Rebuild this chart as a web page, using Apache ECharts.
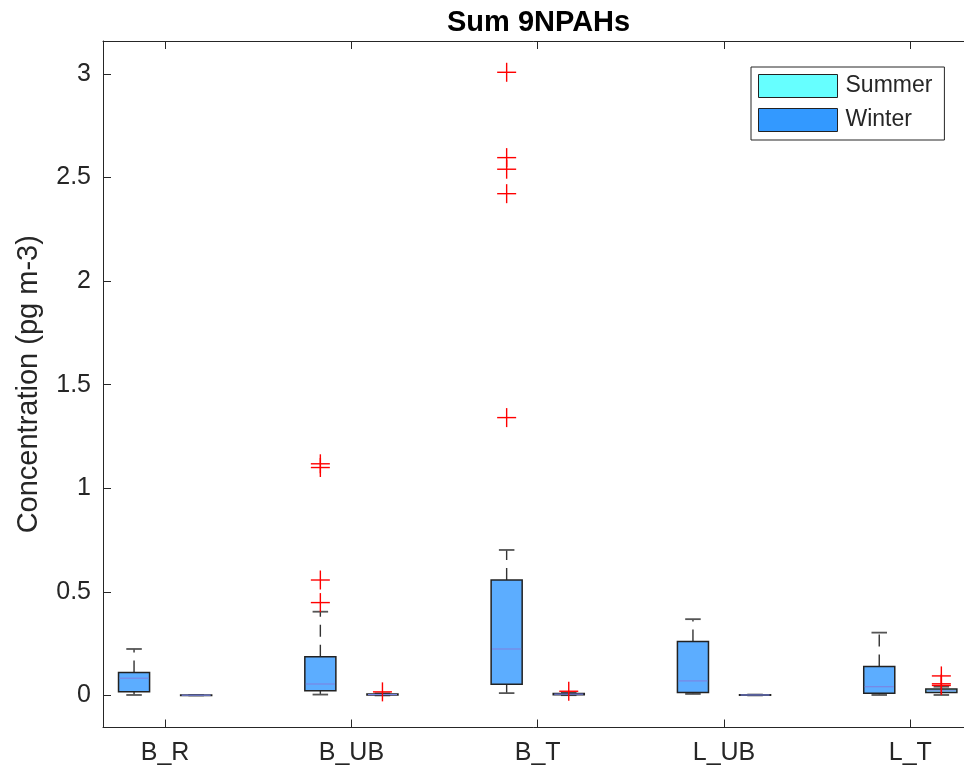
<!DOCTYPE html>
<html>
<head>
<meta charset="utf-8">
<title>Sum 9NPAHs</title>
<script src="https://cdn.jsdelivr.net/npm/echarts@6/dist/echarts.min.js"></script>
<style>
  html, body { margin: 0; padding: 0; background: #ffffff; }
  #chart { width: 964px; height: 774px; }
</style>
</head>
<body>
<div id="chart"></div>
<script>
// Sites, in the order they appear along the x axis
const groups = ['B_R', 'B_UB', 'B_T', 'L_UB', 'L_T'];

// Box statistics per site: [lower whisker, Q1, median, Q3, upper whisker] (pg m-3)
const winterStats = [
  [0.002, 0.017, 0.083, 0.110, 0.224],
  [0.004, 0.023, 0.055, 0.187, 0.404],
  [0.011, 0.054, 0.224, 0.557, 0.702],
  [0.007, 0.0135, 0.070, 0.260, 0.368],
  [0.002, 0.010, 0.042, 0.139, 0.303]
];
const summerStats = [
  [0.000, 0.0005, 0.001, 0.0015, 0.002],
  [0.000, 0.002, 0.004, 0.007, 0.010],
  [0.001, 0.003, 0.006, 0.009, 0.012],
  [0.000, 0.001, 0.002, 0.003, 0.004],
  [0.002, 0.0135, 0.022, 0.031, 0.042]
];

// Points beyond the whiskers
const winterOutliers = [
  [],
  [0.448, 0.557, 1.100, 1.118],
  [1.341, 2.422, 2.540, 2.596, 3.008],
  [],
  []
];
const summerOutliers = [
  [],
  [0.017],
  [0.020],
  [],
  [0.048, 0.056, 0.094]
];

const yTicks = [0, 0.5, 1, 1.5, 2, 2.5, 3];
const groupTicks = [0, 1, 2, 3, 4];

// Layout constants (in x-axis units: one unit per site)
const OFFSET = 1 / 6;      // winter box left of the site tick, summer box right of it
const BOX_W = 1 / 6;

const FONT = "'Liberation Sans', Arial, Helvetica, sans-serif";
const INK = '#262626';

function boxRows(stats, shift) {
  return stats.map((s, i) => [i + shift].concat(s));
}
function outlierRows(list, shift) {
  const rows = [];
  list.forEach((vals, i) => vals.forEach(v => rows.push([i + shift, v])));
  return rows;
}

function makeBoxRender(fill) {
  return function (params, api) {
    const x = api.value(0);
    const lo = api.coord([x, api.value(1)]);
    const q1 = api.coord([x, api.value(2)]);
    const md = api.coord([x, api.value(3)]);
    const q3 = api.coord([x, api.value(4)]);
    const hi = api.coord([x, api.value(5)]);
    const w = api.size([BOX_W, 0])[0];
    const cx = lo[0];
    const capW = w / 2;
    const whiskerStyle = { stroke: '#333333', lineWidth: 1.4, lineDash: [12, 8] };
    const capStyle = { stroke: '#555555', lineWidth: 1.8 };
    return {
      type: 'group',
      children: [
        { type: 'line', shape: { x1: cx, y1: q3[1], x2: cx, y2: hi[1] }, style: whiskerStyle },
        { type: 'line', shape: { x1: cx, y1: q1[1], x2: cx, y2: lo[1] }, style: whiskerStyle },
        { type: 'line', shape: { x1: cx - capW / 2, y1: hi[1], x2: cx + capW / 2, y2: hi[1] }, style: capStyle },
        { type: 'line', shape: { x1: cx - capW / 2, y1: lo[1], x2: cx + capW / 2, y2: lo[1] }, style: capStyle },
        {
          type: 'rect',
          shape: { x: cx - w / 2, y: q3[1], width: w, height: Math.max(q1[1] - q3[1], 0.5) },
          style: { fill: fill, stroke: '#222222', lineWidth: 1.5 }
        },
        {
          type: 'line',
          shape: { x1: cx - w / 2 + 1, y1: md[1], x2: cx + w / 2 - 1, y2: md[1] },
          style: { stroke: '#7a86e4', lineWidth: 1.2 }
        }
      ]
    };
  };
}

function renderOutlier(params, api) {
  const p = api.coord([api.value(0), api.value(1)]);
  const h = 9.5;
  const style = { stroke: '#ff0000', lineWidth: 1.4 };
  return {
    type: 'group',
    children: [
      { type: 'line', shape: { x1: p[0] - h, y1: p[1], x2: p[0] + h, y2: p[1] }, style: style },
      { type: 'line', shape: { x1: p[0], y1: p[1] - h, x2: p[0], y2: p[1] + h }, style: style }
    ]
  };
}

const chart = echarts.init(document.getElementById('chart'), null, { renderer: 'canvas' });

const xBase = {
  type: 'value',
  min: -1 / 3,
  max: 13 / 3,
  splitLine: { show: false },
  axisLine: { show: true, onZero: false, lineStyle: { color: INK, width: 1 } },
  axisTick: { show: true, inside: true, length: 8, customValues: groupTicks, lineStyle: { color: INK, width: 1 } }
};
const yBase = {
  type: 'value',
  min: -0.155,
  max: 3.159,
  splitLine: { show: false },
  axisLine: { show: true, onZero: false, lineStyle: { color: INK, width: 1 } },
  axisTick: { show: true, inside: true, length: 8, customValues: yTicks, lineStyle: { color: INK, width: 1 } }
};

chart.setOption({
  animation: false,
  backgroundColor: '#ffffff',
  title: {
    text: 'Sum 9NPAHs',
    left: 442,
    top: 3,
    textStyle: { fontFamily: FONT, fontSize: 29, fontWeight: 'bold', color: '#000000' }
  },
  legend: {
    orient: 'vertical',
    left: 751,
    top: 67,
    padding: [7, 12, 8, 7],
    itemGap: 10,
    itemWidth: 79,
    itemHeight: 23,
    borderColor: INK,
    borderWidth: 1,
    backgroundColor: '#ffffff',
    selectedMode: false,
    textStyle: { fontFamily: FONT, fontSize: 23, color: INK, padding: [3, 0, 0, 3] },
    data: [
      { name: 'Summer', icon: 'rect', itemStyle: { color: '#66ffff', borderColor: '#222222', borderWidth: 1 } },
      { name: 'Winter', icon: 'rect', itemStyle: { color: '#3399ff', borderColor: '#222222', borderWidth: 1 } }
    ]
  },
  grid: { left: 103, top: 41, bottom: 46.5, right: -8.4, containLabel: false, outerBoundsMode: 'none' },
  xAxis: [
    Object.assign({}, xBase, {
      position: 'bottom',
      axisLabel: {
        show: true,
        customValues: groupTicks,
        margin: 13,
        fontFamily: FONT,
        fontSize: 25,
        color: INK,
        formatter: v => groups[Math.round(v)]
      }
    }),
    Object.assign({}, xBase, { position: 'top', axisLabel: { show: false } })
  ],
  yAxis: [
    Object.assign({}, yBase, {
      position: 'left',
      name: 'Concentration (pg m-3)',
      nameLocation: 'middle',
      nameRotate: 90,
      nameGap: 60,
      nameTextStyle: { fontFamily: FONT, fontSize: 29, color: INK },
      axisLabel: {
        show: true,
        customValues: yTicks,
        margin: 12,
        fontFamily: FONT,
        fontSize: 25,
        color: INK,
        padding: [4, 0, 0, 0]
      }
    }),
    Object.assign({}, yBase, { position: 'right', axisLabel: { show: false } })
  ],
  series: [
    {
      name: 'Winter',
      type: 'custom',
      xAxisIndex: 0,
      yAxisIndex: 0,
      itemStyle: { color: '#3399ff' },
      renderItem: makeBoxRender('#5cadff'),
      encode: { x: 0, y: [1, 2, 3, 4, 5] },
      data: boxRows(winterStats, -OFFSET),
      z: 2
    },
    {
      name: 'Summer',
      type: 'custom',
      xAxisIndex: 0,
      yAxisIndex: 0,
      itemStyle: { color: '#66ffff' },
      renderItem: makeBoxRender('#6ee6e6'),
      encode: { x: 0, y: [1, 2, 3, 4, 5] },
      data: boxRows(summerStats, OFFSET),
      z: 2
    },
    {
      name: 'Outliers',
      type: 'custom',
      xAxisIndex: 0,
      yAxisIndex: 0,
      renderItem: renderOutlier,
      encode: { x: 0, y: 1 },
      data: outlierRows(winterOutliers, -OFFSET).concat(outlierRows(summerOutliers, OFFSET)),
      z: 3
    }
  ]
});
</script>
</body>
</html>
